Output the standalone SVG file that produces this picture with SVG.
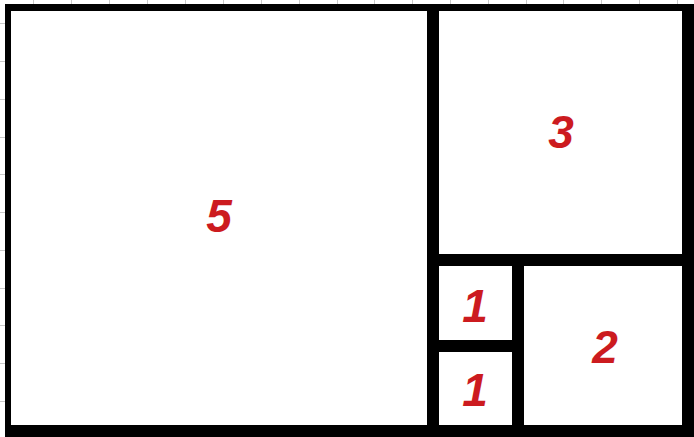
<svg xmlns="http://www.w3.org/2000/svg" width="694" height="437" viewBox="0 0 694 437">
<style>
.cell{fill:#ffffff;}
.num{font-family:"Liberation Sans",Arial,sans-serif;font-weight:bold;font-style:italic;font-size:46px;fill:#cc1b1f;text-anchor:middle;}
.grid{stroke:#c8c8c8;stroke-width:1;}
</style>
<rect x="0" y="0" width="694" height="437" fill="#ffffff"/>
<g id="grid" class="grid">
<line x1="33.5" y1="0" x2="33.5" y2="4"/><line x1="71.5" y1="0" x2="71.5" y2="4"/><line x1="109.5" y1="0" x2="109.5" y2="4"/><line x1="147.5" y1="0" x2="147.5" y2="4"/><line x1="185.5" y1="0" x2="185.5" y2="4"/><line x1="223.5" y1="0" x2="223.5" y2="4"/><line x1="261.5" y1="0" x2="261.5" y2="4"/><line x1="299.5" y1="0" x2="299.5" y2="4"/><line x1="337.5" y1="0" x2="337.5" y2="4"/><line x1="374.5" y1="0" x2="374.5" y2="4"/><line x1="412.5" y1="0" x2="412.5" y2="4"/><line x1="450.5" y1="0" x2="450.5" y2="4"/><line x1="488.5" y1="0" x2="488.5" y2="4"/><line x1="526.5" y1="0" x2="526.5" y2="4"/><line x1="563.5" y1="0" x2="563.5" y2="4"/><line x1="601.5" y1="0" x2="601.5" y2="4"/><line x1="639.5" y1="0" x2="639.5" y2="4"/><line x1="677.5" y1="0" x2="677.5" y2="4"/>
<line x1="0" y1="23.5" x2="5" y2="23.5"/><line x1="0" y1="61.5" x2="5" y2="61.5"/><line x1="0" y1="99.5" x2="5" y2="99.5"/><line x1="0" y1="137.5" x2="5" y2="137.5"/><line x1="0" y1="174.5" x2="5" y2="174.5"/><line x1="0" y1="212.5" x2="5" y2="212.5"/><line x1="0" y1="250.5" x2="5" y2="250.5"/><line x1="0" y1="288.5" x2="5" y2="288.5"/><line x1="0" y1="325.5" x2="5" y2="325.5"/><line x1="0" y1="363.5" x2="5" y2="363.5"/><line x1="0" y1="401.5" x2="5" y2="401.5"/>
</g>
<rect id="frame" x="5" y="4" width="689" height="433" fill="#000000"/>
<g id="sq5">
<rect class="cell" x="11" y="11" width="416" height="414"/>
<text class="num" x="219" y="232">5</text>
</g>
<g id="sq3">
<rect class="cell" x="439" y="11" width="243" height="243"/>
<text class="num" x="561" y="148">3</text>
</g>
<g id="sq1a">
<rect class="cell" x="439" y="266" width="73" height="74"/>
<text class="num" x="475" y="322">1</text>
</g>
<g id="sq1b">
<rect class="cell" x="439" y="352" width="73" height="73"/>
<text class="num" x="475" y="406">1</text>
</g>
<g id="sq2">
<rect class="cell" x="524" y="266" width="158" height="159"/>
<text class="num" x="605" y="363">2</text>
</g>
<g id="connectors"></g>
</svg>
